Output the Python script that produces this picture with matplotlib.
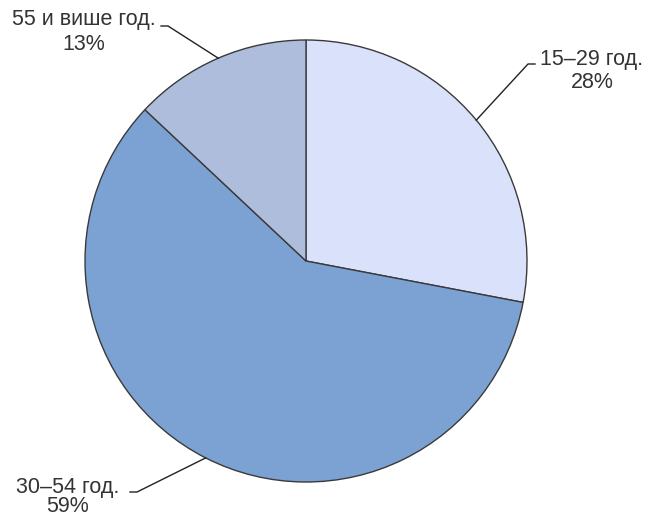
import numpy as np
import matplotlib.pyplot as plt

plt.rcParams['font.family'] = ['Liberation Sans', 'DejaVu Sans']

labels = ['15–29 год.', '30–54 год.', '55 и више год.']
values = [28, 59, 13]
colors = ['#D9E2FA', '#7BA2D3', '#AEBDDC']

fig = plt.figure(figsize=(6.52, 5.17), dpi=100)
ax = fig.add_axes([0, 0, 1, 1])
ax.set_aspect('equal')
ax.axis('off')

cx, cy, r = 306, 517 - 261, 221
wedges, _ = ax.pie(values, colors=colors, startangle=90, counterclock=False,
                   center=(cx, cy), radius=r,
                   wedgeprops=dict(edgecolor='#3a3a3a', linewidth=1.0))
ax.set_xlim(0, 652)
ax.set_ylim(0, 517)

# label layout: (elbow x, elbow y, end x, text x, text y, pct y)
layout = [
    (528, 517 - 64, 535, 592, 517 - 59, 517 - 82),
    (137, 517 - 492, 130, 68, 517 - 488, 517 - 507),
    (168, 517 - 26, 161, 84, 517 - 20, 517 - 44),
]

for w, lab, v, (ex, ey, tx, lx, ly, py2) in zip(wedges, labels, values, layout):
    ang = np.deg2rad((w.theta1 + w.theta2) / 2)
    px, py = cx + r * np.cos(ang), cy + r * np.sin(ang)
    ax.plot([px, ex, tx], [py, ey, ey], color='#222222', lw=1.0)
    ax.text(lx, ly, lab, ha='center', va='center', fontsize=15.5, color='#333333')
    ax.text(lx, py2, f'{v}%', ha='center', va='center', fontsize=15.5, color='#333333')

fig.savefig('out.png', dpi=100)
